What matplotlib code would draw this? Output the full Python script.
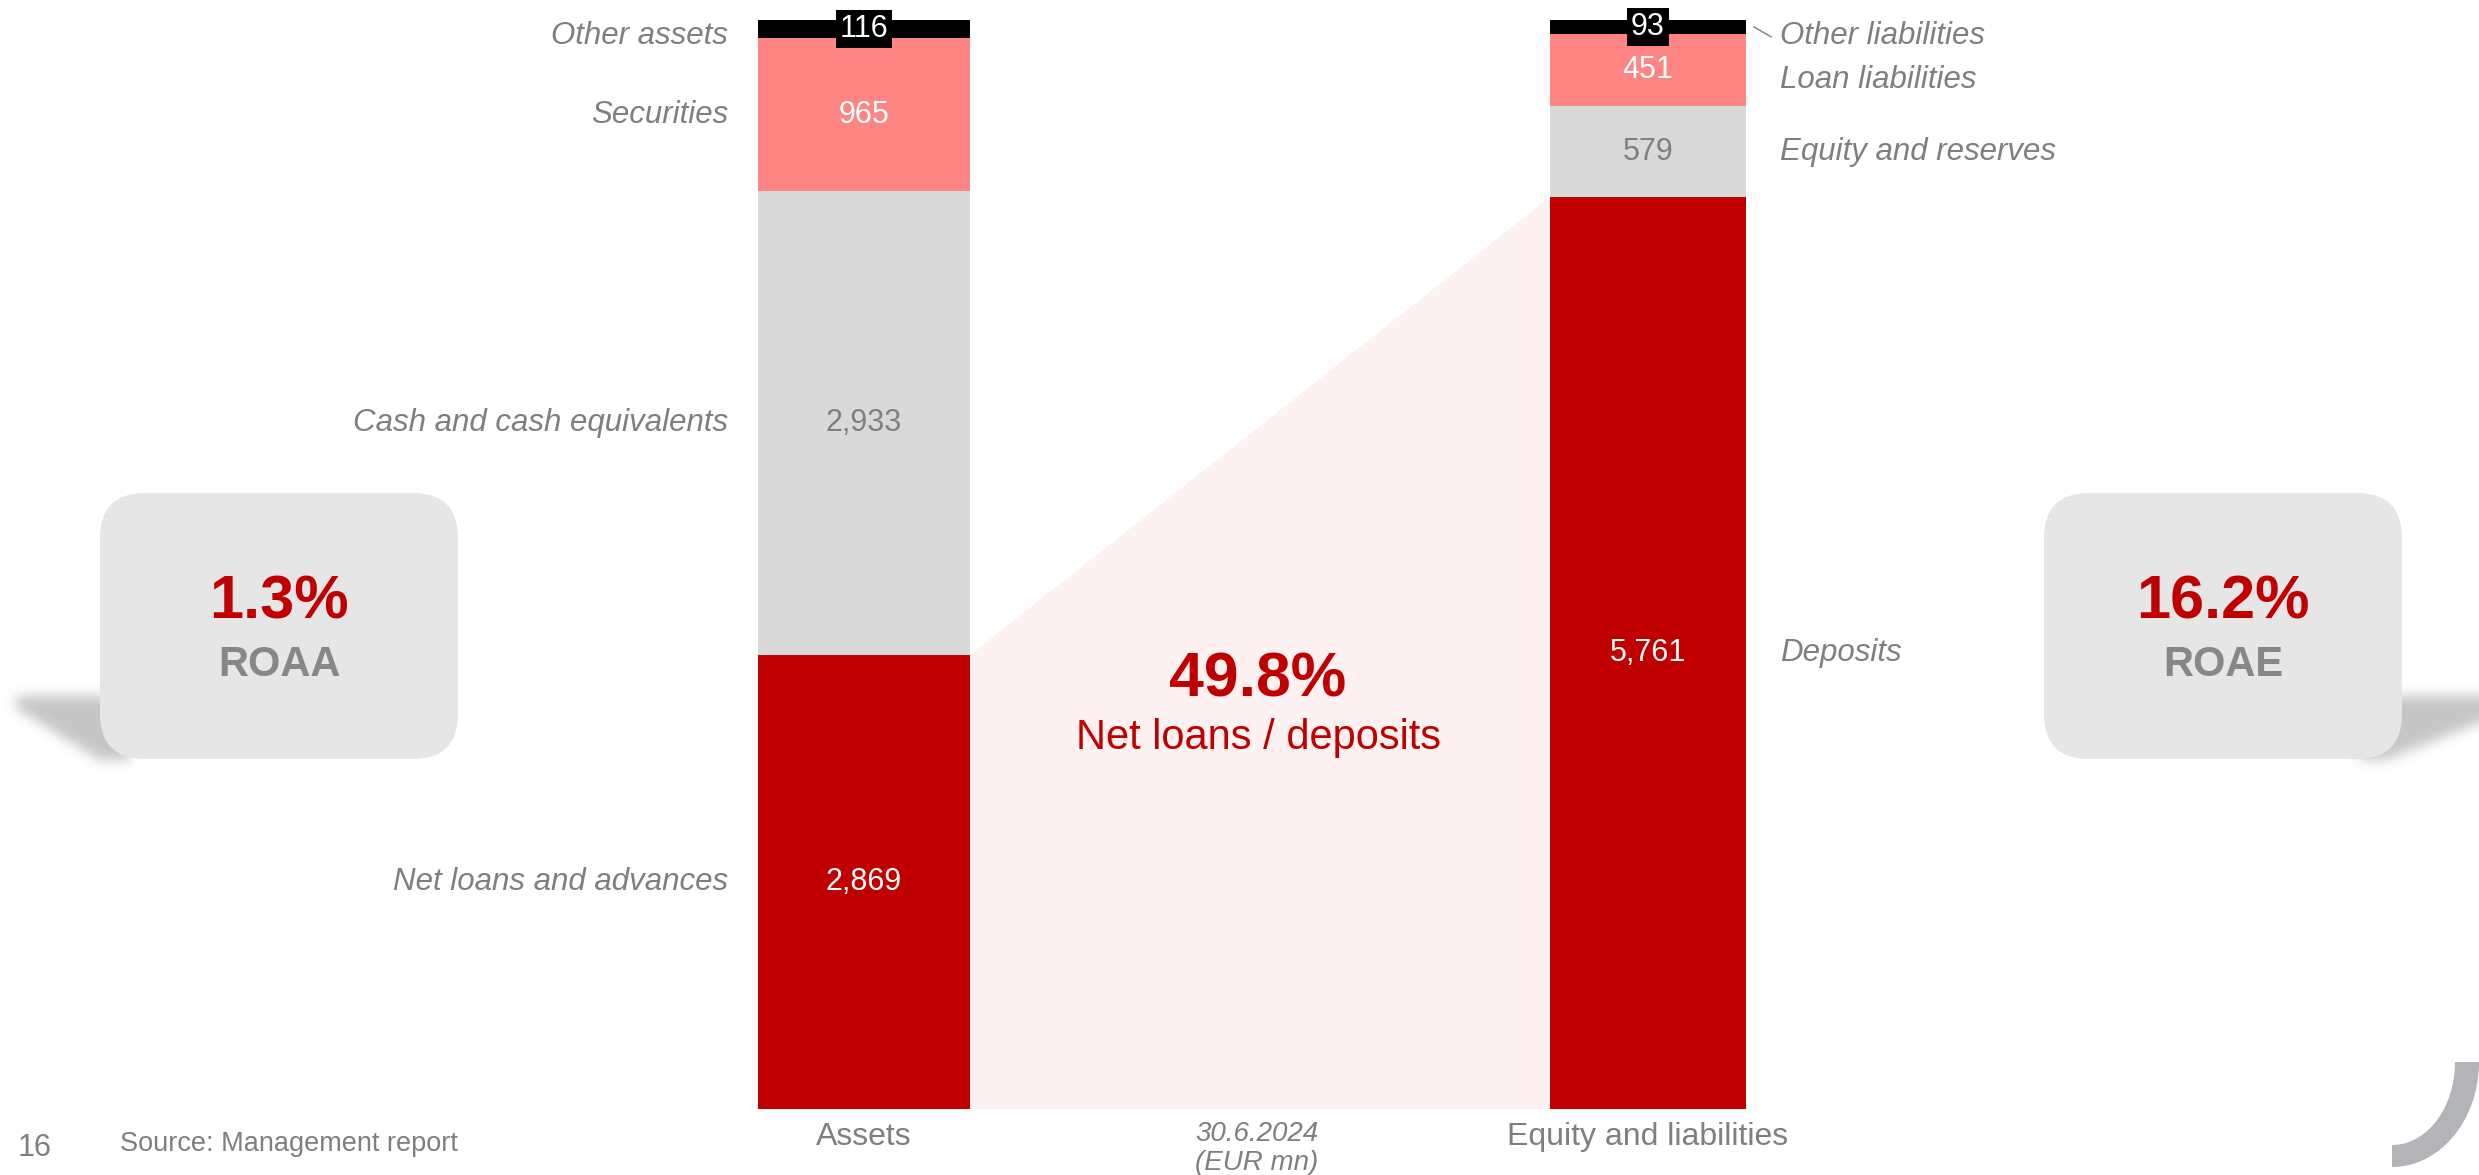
import matplotlib
matplotlib.use('Agg')
import matplotlib.pyplot as plt
from matplotlib.patches import FancyBboxPatch, Polygon
from matplotlib.path import Path
import numpy as np

plt.rcParams['font.family'] = ['Liberation Sans', 'DejaVu Sans']

# Balance sheet, 30.6.2024 (EUR mn), stacked bottom -> top
bar_names = ['Assets', 'Equity and liabilities']
asset_items = ['Net loans and advances', 'Cash and cash equivalents', 'Securities', 'Other assets']
asset_values = [2869, 2933, 965, 116]
liab_items = ['Deposits', 'Equity and reserves', 'Loan liabilities', 'Other liabilities']
liab_values = [5761, 579, 451, 93]

# KPIs
roaa = '1.3%'
roae = '16.2%'
loans_deposits = '49.8%'

# Styles
seg_colors = ['#C00000', '#D9D9D9', '#FF8585', '#000000']
val_colors = ['white', '#7F7F7F', 'white', 'white']
RED = '#C00000'
GREY = '#7F7F7F'

W, H = 2479, 1175
fig = plt.figure(figsize=(W / 100, H / 100), dpi=100)

# main axes: bars
ax = fig.add_axes([0, 66 / H, 1, 1109 / H])
ax.set_xlim(-864 / 784, (W - 864) / 784)
ax.set_ylim(0, 7009)
ax.axis('off')

widths = [0.270, 0.251]

# connector between net loans and deposits
ax.fill([widths[0] / 2, widths[0] / 2, 1 - widths[1] / 2, 1 - widths[1] / 2],
        [asset_values[0], 0, 0, liab_values[0]], color='#FEF1F1', lw=0, zorder=0)

# label offsets (points) for the crowded top segments
left_off = [0, 0, 0, -5]
right_off = [0, 0, -7, -6.5]

for xi, w, vals, names, lx, ha, offs in [
        (0, widths[0], asset_values, asset_items, -0.1735, 'right', left_off),
        (1, widths[1], liab_values, liab_items, 1.168, 'left', right_off)]:
    bottom = 0
    for i, v in enumerate(vals):
        ax.bar(xi, v, width=w, bottom=bottom, color=seg_colors[i], edgecolor='none', zorder=2)
        yc = bottom + v / 2
        kw = {}
        if i == 3:
            kw['bbox'] = dict(boxstyle='square,pad=0.12', fc='black', ec='none')
        ax.text(xi, yc, f'{v:,}', ha='center', va='center', fontsize=22,
                color=val_colors[i], zorder=4, **kw)
        ax.annotate(names[i], (lx, yc), xytext=(0, offs[i]), textcoords='offset points',
                    ha=ha, va='center', fontsize=22.5, style='italic', color=GREY)
        bottom += v

# leader line for "Other liabilities"
ax.plot([1.135, 1.157], [6839, 6776], color=GREY, lw=1)

# overlay in pixel coordinates for boxes and annotations
ov = fig.add_axes([0, 0, 1, 1], zorder=3)
ov.set_xlim(0, W)
ov.set_ylim(H, 0)
ov.axis('off')


def soft_shadow(verts, blur=6, shade=0.78):
    verts = np.array(verts, float)
    x0, y0 = np.floor(verts.min(0) - 3 * blur)
    x1, y1 = np.ceil(verts.max(0) + 3 * blur)
    gx, gy = np.meshgrid(np.arange(x0, x1) + 0.5, np.arange(y0, y1) + 0.5)
    m = Path(verts).contains_points(np.c_[gx.ravel(), gy.ravel()]).reshape(gx.shape).astype(float)
    r = np.arange(-3 * blur, 3 * blur + 1)
    k = np.exp(-0.5 * (r / blur) ** 2)
    k /= k.sum()
    m = np.apply_along_axis(lambda a: np.convolve(a, k, 'same'), 1, m)
    m = np.apply_along_axis(lambda a: np.convolve(a, k, 'same'), 0, m)
    img = np.zeros(m.shape + (4,))
    img[..., :3] = shade
    img[..., 3] = np.clip(m, 0, 1)
    ov.imshow(img, extent=(x0, x1, y1, y0), interpolation='bilinear', aspect='auto', zorder=1)


soft_shadow([(16, 696), (130, 696), (130, 760), (100, 760), (16, 708)])
soft_shadow([(2360, 696), (2520, 696), (2520, 707), (2385, 760), (2360, 760)])
ov.set_xlim(0, W)
ov.set_ylim(H, 0)

for bx, big, small in [(100, roaa, 'ROAA'), (2044, roae, 'ROAE')]:
    ov.add_patch(FancyBboxPatch((bx, 493), 358, 266, boxstyle='round,pad=0,rounding_size=45',
                                fc='#E6E6E6', ec='none', zorder=2))
    cx = bx + 179
    ov.text(cx, 603, big, ha='center', va='center', fontsize=44, fontweight='bold', color=RED, zorder=3)
    ov.text(cx, 665, small, ha='center', va='center', fontsize=30, fontweight='bold', color='#878787', zorder=3)

# net loans / deposits
ov.text(1258, 680, loans_deposits, ha='center', va='center', fontsize=45, fontweight='bold', color=RED)
ov.text(1258, 738, 'Net loans / deposits', ha='center', va='center', fontsize=30, color=RED)

# bar captions
ov.text(864, 1137, bar_names[0], ha='center', va='center', fontsize=23, color=GREY)
ov.text(1648, 1137, bar_names[1], ha='center', va='center', fontsize=23, color=GREY)
ov.text(1257, 1134, '30.6.2024', ha='center', va='center', fontsize=20, style='italic', color=GREY)
ov.text(1257, 1163, '(EUR mn)', ha='center', va='center', fontsize=20, style='italic', color=GREY)

# footer
ov.text(35, 1148, '16', ha='center', va='center', fontsize=22, color=GREY)
ov.text(120, 1144, 'Source: Management report', ha='left', va='center', fontsize=19.5, color=GREY)

# corner decoration (quarter ring)
t = np.linspace(0, np.pi / 2, 60)
cxr, cyr = 2392, 1062
outer = np.c_[cxr + 87 * np.cos(t), cyr + 105 * np.sin(t)]
inner = np.c_[cxr + 63 * np.cos(t[::-1]), cyr + 83 * np.sin(t[::-1])]
ov.add_patch(Polygon(np.vstack([outer, inner]), closed=True, fc='#B3B4B7', ec='none'))

fig.savefig('out.png', dpi=100, facecolor='white')
